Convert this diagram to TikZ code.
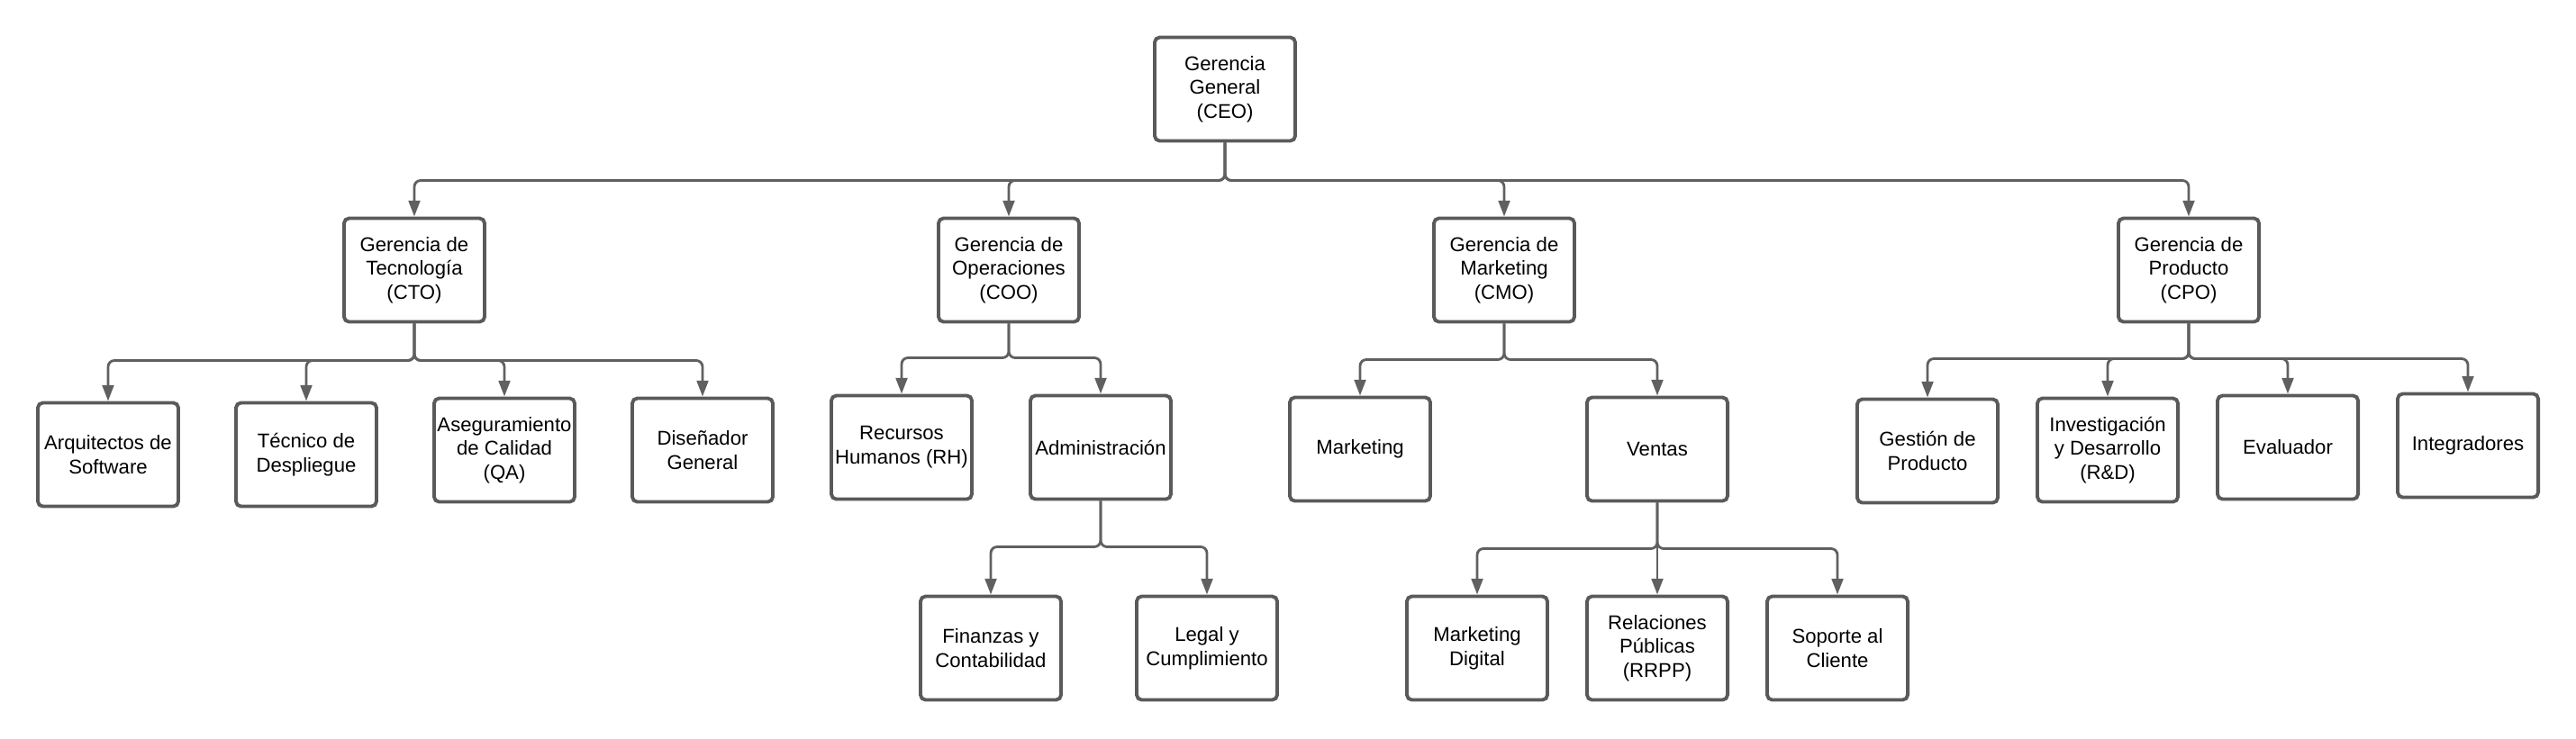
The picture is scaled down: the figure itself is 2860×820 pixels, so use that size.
\documentclass[tikz,border=0pt]{standalone}
\usepackage{fontspec}
\setmainfont{Liberation Sans}
\usetikzlibrary{arrows.meta}
\definecolor{boxline}{HTML}{5a5a5a}
\definecolor{edgeline}{HTML}{606060}

\begin{document}
\begin{tikzpicture}[x=0.01cm,y=-0.01cm,
  box/.style={draw=boxline,line width=1.1pt,rounded corners=1.6pt,fill=white,
    minimum width=1.56cm,minimum height=1.15cm,align=center,inner sep=1pt,
    font=\fontsize{6.3}{7.6}\selectfont},
  edge/.style={draw=edgeline,line width=0.8pt,rounded corners=2pt,
    -{Triangle[length=5pt,width=3.6pt]}}]

\useasboundingbox (0,0) rectangle (2860,820);

\node[box] (ceo) at (1360,99) {Gerencia\\General\\(CEO)};

\node[box] (cto) at (460,300) {Gerencia de\\Tecnología\\(CTO)};
\node[box] (coo) at (1120,300) {Gerencia de\\Operaciones\\(COO)};
\node[box] (cmo) at (1670,300) {Gerencia de\\Marketing\\(CMO)};
\node[box] (cpo) at (2430,300) {Gerencia de\\Producto\\(CPO)};

\node[box] (arq) at (120,505) {Arquitectos de\\Software};
\node[box] (tec) at (340,505) {Técnico de\\Despliegue};
\node[box] (qa) at (560,500) {Aseguramiento\\de Calidad\\(QA)};
\node[box] (dis) at (780,500) {Diseñador\\General};

\node[box] (rh) at (1001,497) {Recursos\\Humanos (RH)};
\node[box] (adm) at (1222,497) {Administración};

\node[box] (mkt) at (1510,499) {Marketing};
\node[box] (ven) at (1840,499) {Ventas};

\node[box] (ges) at (2140,501) {Gestión de\\Producto};
\node[box] (rd) at (2340,500) {Investigación\\y Desarrollo\\(R\&D)};
\node[box] (eva) at (2540,497) {Evaluador};
\node[box] (int) at (2740,495) {Integradores};

\node[box] (fin) at (1100,720) {Finanzas y\\Contabilidad};
\node[box] (leg) at (1340,720) {Legal y\\Cumplimiento};

\node[box] (mkd) at (1640,720) {Marketing\\Digital};
\node[box] (rrpp) at (1840,720) {Relaciones\\Públicas\\(RRPP)};
\node[box] (sop) at (2040,720) {Soporte al\\Cliente};

\foreach \c in {cto,coo,cmo,cpo}
  \path[edge] (ceo.south) -- ++(0,42) -| (\c.north);
\foreach \c in {arq,tec,qa,dis}
  \path[edge] (cto.south) -- ++(0,41) -| (\c.north);
\foreach \c in {rh,adm}
  \path[edge] (coo.south) -- ++(0,38) -| (\c.north);
\foreach \c in {mkt,ven}
  \path[edge] (cmo.south) -- ++(0,40) -| (\c.north);
\foreach \c in {ges,rd,eva,int}
  \path[edge] (cpo.south) -- ++(0,39) -| (\c.north);
\foreach \c in {fin,leg}
  \path[edge] (adm.south) -- ++(0,51) -| (\c.north);
\foreach \c in {mkd,rrpp,sop}
  \path[edge] (ven.south) -- ++(0,51) -| (\c.north);

\end{tikzpicture}
\end{document}
